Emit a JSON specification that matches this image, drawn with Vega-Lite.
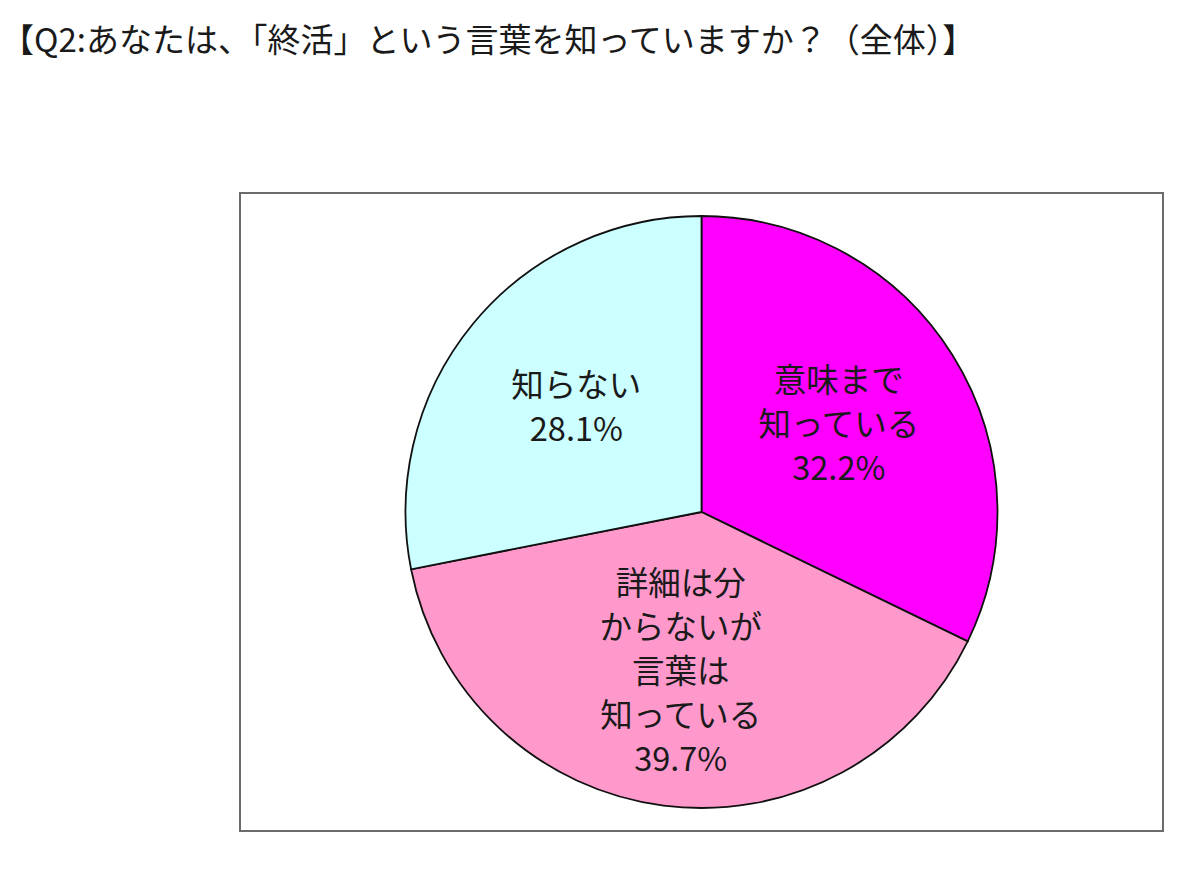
{
  "$schema": "https://vega.github.io/schema/vega-lite/v6.json",
  "autosize": {"type": "none"},
  "width": 923,
  "height": 638,
  "padding": {"left": 240, "top": 193, "right": 37, "bottom": 43},
  "background": "white",
  "config": {
    "view": {"stroke": null},
    "font": "Noto Sans CJK JP"
  },
  "title": {
    "text": "【Q2:あなたは、「終活」という言葉を知っていますか？（全体）】",
    "anchor": "start",
    "frame": "group",
    "dx": -239,
    "offset": 133,
    "fontSize": 33,
    "fontWeight": "normal",
    "font": "Noto Sans CJK JP",
    "color": "#1a1a1a"
  },
  "data": {
    "values": [
      {"idx": 1, "category": "意味まで知っている", "label": ["意味まで", "知っている", "32.2%"], "value": 32.2},
      {"idx": 2, "category": "詳細は分からないが言葉は知っている", "label": ["詳細は分", "からないが", "言葉は", "知っている", "39.7%"], "value": 39.7},
      {"idx": 3, "category": "知らない", "label": ["知らない", "28.1%"], "value": 28.1}
    ]
  },
  "layer": [
    {
      "data": {"values": [{"frame": "box"}]},
      "mark": {"type": "rect", "fill": null, "stroke": "#6b6b6b", "strokeWidth": 2},
      "encoding": {
        "x": {"value": 0},
        "x2": {"value": "width"},
        "y": {"value": 0},
        "y2": {"value": "height"}
      }
    },
    {
      "mark": {"type": "arc", "radius": 296, "stroke": "#111111", "strokeWidth": 1.8},
      "encoding": {
        "theta": {"field": "value", "type": "quantitative", "stack": true},
        "order": {"field": "idx", "type": "quantitative"},
        "color": {
          "field": "category",
          "type": "nominal",
          "scale": {
            "domain": ["意味まで知っている", "詳細は分からないが言葉は知っている", "知らない"],
            "range": ["#ff00ff", "#ff99cc", "#ccffff"]
          },
          "legend": null
        }
      }
    },
    {
      "mark": {
        "type": "text",
        "radius": 162,
        "fontSize": 32.5,
        "lineHeight": 44,
        "align": "center",
        "baseline": "middle",
        "dy": {"expr": "-(length(datum.label) - 1) * 22"},
        "color": "#1a1a1a",
        "font": "Noto Sans CJK JP"
      },
      "encoding": {
        "theta": {"field": "value", "type": "quantitative", "stack": true},
        "order": {"field": "idx", "type": "quantitative"},
        "text": {"field": "label", "type": "nominal"}
      }
    }
  ]
}
